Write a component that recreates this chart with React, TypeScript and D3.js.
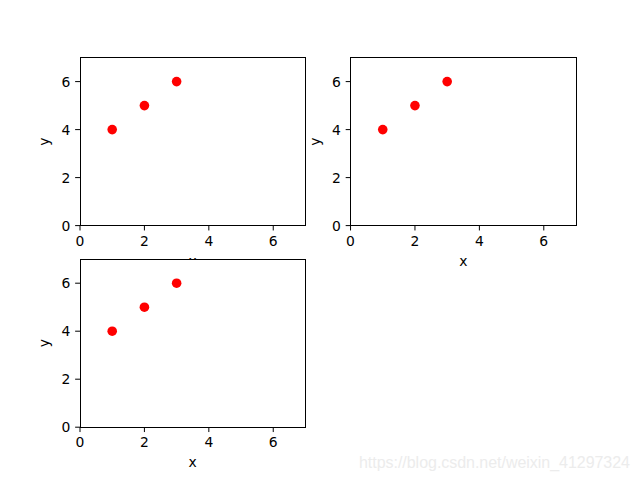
import React from "react";
import * as d3 from "d3";

const xs = [1, 2, 3];
const ys = [4, 5, 6];
const tickValues = [0, 2, 4, 6];
const domainX: [number, number] = [0, 7];
const domainY: [number, number] = [0, 7];
const watermark = "https://blog.csdn.net/weixin_41297324";

const W = 640;
const H = 480;
const FONT = "DejaVu Sans, sans-serif";

function Panel({ left, top, width, height }: { left: number; top: number; width: number; height: number }) {
  const x = d3.scaleLinear().domain(domainX).range([left, left + width]);
  const y = d3.scaleLinear().domain(domainY).range([top + height, top]);
  const tick = 4.86;
  const pad = 4.86;
  return (
    <g>
      <rect x={left} y={top} width={width} height={height} fill="white" />
      {xs.map((v, i) => (
        <circle key={i} cx={x(v)} cy={y(ys[i])} r={4.8} fill="#ff0000" />
      ))}
      <rect x={left} y={top} width={width} height={height} fill="none" stroke="black" strokeWidth={1} shapeRendering="crispEdges" />
      {tickValues.map((t) => (
        <g key={"x" + t}>
          <line x1={x(t)} x2={x(t)} y1={top + height} y2={top + height + tick} stroke="black" strokeWidth={1} />
          <text x={x(t)} y={top + height + tick + pad} dy="0.76em" textAnchor="middle" fontSize={13.9} fontFamily={FONT} fill="black">
            {t}
          </text>
        </g>
      ))}
      {tickValues.map((t) => (
        <g key={"y" + t}>
          <line x1={left - tick} x2={left} y1={y(t)} y2={y(t)} stroke="black" strokeWidth={1} />
          <text x={left - tick - pad} y={y(t)} dy="0.36em" textAnchor="end" fontSize={13.9} fontFamily={FONT} fill="black">
            {t}
          </text>
        </g>
      ))}
      <text x={left + width / 2} y={top + height + 40} textAnchor="middle" fontSize={13.9} fontFamily={FONT} fill="black">
        x
      </text>
      <text
        transform={`translate(${left - 31},${top + height / 2}) rotate(-90)`}
        textAnchor="middle"
        fontSize={13.9}
        fontFamily={FONT}
        fill="black"
      >
        y
      </text>
    </g>
  );
}

export default function App() {
  const figLeft = 80;
  const figRight = 576;
  const figTop = 57.6;
  const figBottom = 427.2;
  const aw = (figRight - figLeft) / 2.2;
  const ah = (figBottom - figTop) / 2.2;
  const panels = [
    { left: figLeft, top: figTop },
    { left: figLeft + aw * 1.2, top: figTop },
    { left: figLeft, top: figTop + ah * 1.2 },
  ];
  return (
    <svg width={W} height={H} style={{ position: "absolute", left: 0, top: 0, background: "white" }}>
      <rect x={0} y={0} width={W} height={H} fill="white" />
      {panels.map((p, i) => (
        <Panel key={i} left={p.left} top={p.top} width={aw} height={ah} />
      ))}
      <text x={359} y={468} fontSize={16} textLength={271} fontFamily="Liberation Sans, Arial, sans-serif" fill="#ececec">
        {watermark}
      </text>
    </svg>
  );
}
